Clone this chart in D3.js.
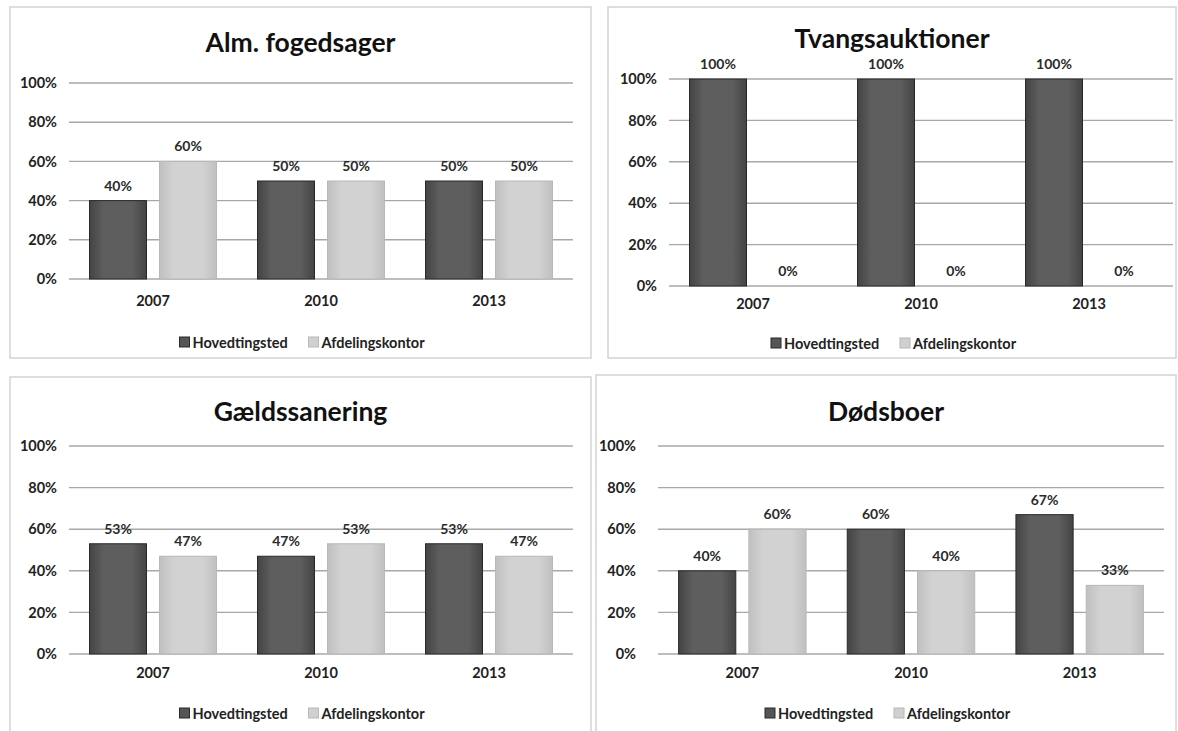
<!DOCTYPE html>
<html>
<head>
<meta charset="utf-8">
<script src="https://cdn.jsdelivr.net/npm/d3@7"></script>
<style>
  body { margin: 0; background: #fff; }
  svg { display: block; font-family: Lato, "Open Sans", sans-serif; }
</style>
</head>
<body>
<svg id="chart" width="1178" height="731"></svg>
<script>
// data
var years = ['2007', '2010', '2013']
var seriesNames = ['Hovedtingsted', 'Afdelingskontor']
var titles = ['Alm. fogedsager', 'Tvangsauktioner', 'Gældssanering', 'Dødsboer']
var hoved = [
  [40, 50, 50],
  [100, 100, 100],
  [53, 47, 53],
  [40, 60, 67]
]
var afdeling = [
  [60, 50, 50],
  [0, 0, 0],
  [47, 53, 47],
  [60, 40, 33]
]
var yTicks = [0, 20, 40, 60, 80, 100]

// panel placement
var panels = [
  {box: [10, 7, 591, 358], px: [69, 573], py: [83, 279], titleY: 52, catY: 310, legY: 348, pad: 12},
  {box: [608, 7, 1176, 358], px: [669, 1173], py: [79, 286], titleY: 48, catY: 313, legY: 349, pad: 12},
  {box: [10, 377, 591, 740], px: [69, 573], py: [446, 654], titleY: 421, catY: 682, legY: 719, pad: 12},
  {box: [596, 375, 1176, 740], px: [658, 1164], py: [446, 654], titleY: 421, catY: 682, legY: 719, pad: 22}
]

var colors = {Hovedtingsted: '#555', Afdelingskontor: '#d0d0d0'}
var strokes = {Hovedtingsted: '#2a2a2a', Afdelingskontor: '#b8b8b8'}

var svg = d3.select('#chart')
var defs = svg.append('defs')
function grad(id, edge, mid) {
  var g = defs.append('linearGradient').attr('id', id).attr('x1', '0').attr('x2', '1').attr('y1', '0').attr('y2', '0')
  g.append('stop').attr('offset', '0%').attr('stop-color', edge)
  g.append('stop').attr('offset', '25%').attr('stop-color', mid)
  g.append('stop').attr('offset', '75%').attr('stop-color', mid)
  g.append('stop').attr('offset', '100%').attr('stop-color', edge)
}
grad('gH', '#444', '#5e5e5e')
grad('gA', '#c0c0c0', '#d2d2d2')
var fills = {Hovedtingsted: 'url(#gH)', Afdelingskontor: 'url(#gA)'}

panels.forEach(function(p, i) {
  var g = svg.append('g')
  var b = p.box
  g.append('rect')
    .attr('x', b[0]).attr('y', b[1])
    .attr('width', b[2] - b[0]).attr('height', b[3] - b[1])
    .attr('fill', '#fff').attr('stroke', '#d4d4d4').attr('stroke-width', 1.5)

  var cx = (b[0] + b[2]) / 2
  g.append('text')
    .attr('x', cx).attr('y', p.titleY)
    .attr('text-anchor', 'middle')
    .attr('font-size', 26.5).attr('font-weight', 'bold').attr('fill', '#111')
    .text(titles[i])

  var x0 = d3.scaleBand().domain(years).range(p.px)
  var x1 = d3.scaleBand().domain(seriesNames).range([0, x0.bandwidth()])
    .paddingInner(0.186).paddingOuter(0.293)
  var y = d3.scaleLinear().domain([0, 100]).range([p.py[1], p.py[0]])

  // gridlines
  g.append('g').selectAll('line').data(yTicks).join('line')
    .attr('x1', p.px[0]).attr('x2', p.px[1])
    .attr('y1', d => y(d)).attr('y2', d => y(d))
    .attr('stroke', '#a8a8a8').attr('stroke-width', 1.4)

  var yAxis = g.append('g')
    .attr('transform', `translate(${p.px[0]},0)`)
    .call(d3.axisLeft(y).tickValues(yTicks).tickFormat(d => d + '%').tickSize(0).tickPadding(p.pad))
  yAxis.select('.domain').remove()
  yAxis.selectAll('text').attr('font-size', 14.5).attr('font-weight', 'bold')
    .attr('fill', '#222').attr('font-family', 'Lato, sans-serif')

  var xAxis = g.append('g')
    .attr('transform', `translate(0,${p.catY - 14})`)
    .call(d3.axisBottom(x0).tickSize(0).tickPadding(0))
  xAxis.select('.domain').remove()
  xAxis.selectAll('text').attr('font-size', 14.5).attr('font-weight', 'bold')
    .attr('fill', '#222').attr('font-family', 'Lato, sans-serif')

  var rows = years.map(function(yr, k) {
    return {year: yr, vals: [
      {s: 'Hovedtingsted', v: hoved[i][k]},
      {s: 'Afdelingskontor', v: afdeling[i][k]}
    ]}
  })

  var grp = g.append('g').selectAll('g').data(rows).join('g')
    .attr('transform', d => `translate(${x0(d.year)},0)`)

  grp.selectAll('rect').data(d => d.vals).join('rect')
    .attr('x', d => x1(d.s)).attr('width', x1.bandwidth())
    .attr('y', d => y(d.v)).attr('height', d => y(0) - y(d.v))
    .attr('fill', d => fills[d.s])
    .attr('stroke', d => d.v > 0 ? strokes[d.s] : 'none').attr('stroke-width', 1)

  grp.selectAll('text').data(d => d.vals).join('text')
    .attr('x', d => x1(d.s) + x1.bandwidth() / 2)
    .attr('y', d => y(d.v) - 10)
    .attr('text-anchor', 'middle')
    .attr('font-size', 14).attr('font-weight', 'bold').attr('fill', '#2a2a2a')
    .text(d => d.v + '%')

  // legend
  var leg = g.append('g').attr('transform', `translate(${cx},${p.legY})`)
  var items = [
    {s: 'Hovedtingsted', x: -121},
    {s: 'Afdelingskontor', x: 8}
  ]
  var li = leg.selectAll('g').data(items).join('g')
    .attr('transform', d => `translate(${d.x},0)`)
  li.append('rect')
    .attr('x', 0).attr('y', -11).attr('width', 10).attr('height', 10)
    .attr('fill', d => colors[d.s]).attr('stroke', d => strokes[d.s])
  li.append('text')
    .attr('x', 13).attr('y', 0)
    .attr('font-size', 14.5).attr('font-weight', 'bold').attr('fill', '#222')
    .text(d => d.s)
})
</script>
</body>
</html>
